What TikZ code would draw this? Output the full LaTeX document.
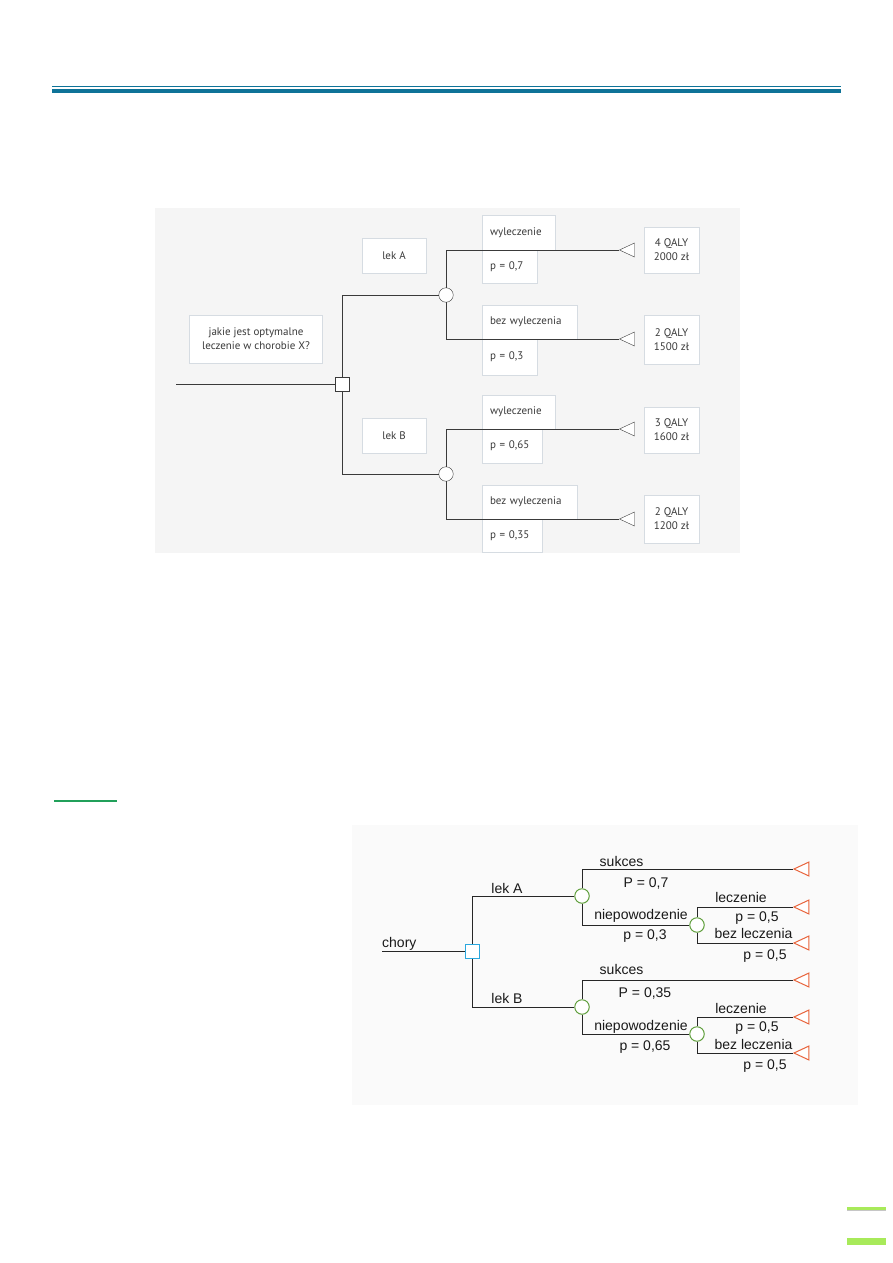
\documentclass[tikz,border=0pt]{standalone}
\usepackage{fontspec}
\setmainfont{Liberation Sans}
\newfontfamily\scanfont{PT Sans}
\usetikzlibrary{shapes.geometric}
\definecolor{headblue}{HTML}{0E7398}
\definecolor{decblue}{HTML}{2BA8DE}
\definecolor{chancegreen}{HTML}{5E9E3A}
\definecolor{leaforange}{HTML}{E8643C}
\definecolor{rulegreen}{HTML}{21A05A}
\definecolor{barlime}{HTML}{A8EA5A}
\definecolor{scanline}{HTML}{3A3A3A}
\definecolor{boxedge}{HTML}{D6DCE2}

\begin{document}
\begin{tikzpicture}[x=1pt, y=-1pt,
        box/.style={draw=boxedge, fill=white, rectangle, align=center, inner sep=0pt, text=scanline, font=\scanfont\fontsize{11}{14}\selectfont},
        branchbox/.style={box, align=left, inner xsep=8pt},
        dec/.style={draw, rectangle, minimum size=14pt, inner sep=0pt, fill=white},
        chance/.style={draw, circle, minimum size=14.5pt, inner sep=0pt, fill=white},
        leaf/.style={draw, isosceles triangle, isosceles triangle stretches, shape border rotate=180, minimum width=14pt, minimum height=15pt, inner sep=0pt, fill=white},
        branch/.style={draw=scanline, line width=0.9pt},
        edge/.style={draw=black!85, line width=1pt},
        lbl/.style={font=\fontsize{14}{16}\selectfont, inner sep=0pt, text=black!90}
    ]
    \useasboundingbox (0,0) rectangle (893,1263);

    \draw[headblue, line width=1.2pt] (52,86.3) -- (841,86.3);
    \fill[headblue] (52,89) rectangle (841,93);

    % scanned tree
    \fill[gray!8] (155,208) rectangle (740,553);

    \node[box, minimum width=133pt, minimum height=48pt] (question) at (256,339) {jakie jest optymalne\\leczenie w chorobie X?};
    \node[box, minimum width=64pt, minimum height=35pt] (lekA) at (394,256) {lek A};
    \node[box, minimum width=64pt, minimum height=35pt] (lekB) at (394,436) {lek B};

    \node[branchbox, text width=57pt, minimum height=35pt] (cureA) at (518.5,232.5) {wyleczenie};
    \node[branchbox, text width=39pt, minimum height=33pt] (pcureA) at (509.5,266.5) {p = 0,7};
    \node[branchbox, text width=79pt, minimum height=34pt] (nocureA) at (529.5,322) {bez wyleczenia};
    \node[branchbox, text width=39pt, minimum height=36pt] (pnocureA) at (509.5,357) {p = 0,3};
    \node[branchbox, text width=57pt, minimum height=34pt] (cureB) at (518.5,412) {wyleczenie};
    \node[branchbox, text width=44pt, minimum height=34pt] (pcureB) at (512,446) {p = 0,65};
    \node[branchbox, text width=79pt, minimum height=34pt] (nocureB) at (529.5,502) {bez wyleczenia};
    \node[branchbox, text width=44pt, minimum height=33pt] (pnocureB) at (512,535.5) {p = 0,35};

    \node[box, minimum width=55pt, minimum height=46pt] (outA1) at (671.5,250) {4 QALY\\2000 zł};
    \node[box, minimum width=55pt, minimum height=49pt] (outA2) at (671.5,339.5) {2 QALY\\1500 zł};
    \node[box, minimum width=55pt, minimum height=46pt] (outB1) at (671.5,430) {3 QALY\\1600 zł};
    \node[box, minimum width=55pt, minimum height=48pt] (outB2) at (671.5,519) {2 QALY\\1200 zł};

    \coordinate (start) at (176,384);
    \node[dec, draw=scanline] (choice) at (342.5,384) {};
    \node[chance, draw=scanline] (chA) at (446,295) {};
    \node[chance, draw=scanline] (chB) at (446,474) {};
    \node[leaf, draw=scanline] (endA1) at (630,250) {};
    \node[leaf, draw=scanline] (endA2) at (630,339) {};
    \node[leaf, draw=scanline] (endB1) at (630,429) {};
    \node[leaf, draw=scanline] (endB2) at (630,519) {};

    \draw[branch] (start) -- (choice);
    \draw[branch] (choice.north) |- (chA);
    \draw[branch] (choice.south) |- (chB);
    \draw[branch] (chA.north) |- (endA1.apex);
    \draw[branch] (chA.south) |- (endA2.apex);
    \draw[branch] (chB.north) |- (endB1.apex);
    \draw[branch] (chB.south) |- (endB2.apex);

    \draw[rulegreen, line width=1.2pt] (54,801) -- (117,801);

    % coloured tree
    \fill[gray!4] (352,825) rectangle (858,1105);

    \coordinate (root) at (382,951);
    \node[dec, draw=decblue, line width=1pt] (pick) at (472,951) {};
    \node[chance, draw=chancegreen, line width=1pt] (drugA) at (582,896) {};
    \node[chance, draw=chancegreen, line width=1pt] (drugB) at (582,1007) {};
    \node[chance, draw=chancegreen, line width=1pt] (failA) at (697,925) {};
    \node[chance, draw=chancegreen, line width=1pt] (failB) at (697,1034) {};
    \node[leaf, draw=leaforange, line width=1pt] (winA) at (804.5,869) {};
    \node[leaf, draw=leaforange, line width=1pt] (treatA) at (804.5,907) {};
    \node[leaf, draw=leaforange, line width=1pt] (untreatA) at (804.5,943) {};
    \node[leaf, draw=leaforange, line width=1pt] (winB) at (804.5,980) {};
    \node[leaf, draw=leaforange, line width=1pt] (treatB) at (804.5,1017) {};
    \node[leaf, draw=leaforange, line width=1pt] (untreatB) at (804.5,1053) {};

    \draw[edge] (root) -- (pick);
    \draw[edge] (pick.north) |- (drugA);
    \draw[edge] (pick.south) |- (drugB);
    \draw[edge] (drugA.north) |- (winA.apex);
    \draw[edge] (drugA.south) |- (failA);
    \draw[edge] (failA.north) |- (treatA.apex);
    \draw[edge] (failA.south) |- (untreatA.apex);
    \draw[edge] (drugB.north) |- (winB.apex);
    \draw[edge] (drugB.south) |- (failB);
    \draw[edge] (failB.north) |- (treatB.apex);
    \draw[edge] (failB.south) |- (untreatB.apex);

    \node[lbl, anchor=base west] (lchory) at (382,947) {chory};
    \node[lbl, anchor=base] (llekA) at (507,893) {lek A};
    \node[lbl, anchor=base] (llekB) at (507,1003) {lek B};
    \node[lbl, anchor=base] (lwinA) at (621.5,866) {sukces};
    \node[lbl, anchor=base] (lpwinA) at (646,887) {P = 0,7};
    \node[lbl, anchor=base] (lfailA) at (641,919) {niepowodzenie};
    \node[lbl, anchor=base] (lpfailA) at (645,939) {p = 0,3};
    \node[lbl, anchor=base] (ltreatA) at (741,902) {leczenie};
    \node[lbl, anchor=base] (lptreatA) at (757,921) {p = 0,5};
    \node[lbl, anchor=base] (luntreatA) at (753.5,938) {bez leczenia};
    \node[lbl, anchor=base] (lpuntreatA) at (765,959) {p = 0,5};
    \node[lbl, anchor=base] (lwinB) at (621.5,974) {sukces};
    \node[lbl, anchor=base] (lpwinB) at (645,997) {P = 0,35};
    \node[lbl, anchor=base] (lfailB) at (641,1030) {niepowodzenie};
    \node[lbl, anchor=base] (lpfailB) at (645,1050) {p = 0,65};
    \node[lbl, anchor=base] (ltreatB) at (741,1013) {leczenie};
    \node[lbl, anchor=base] (lptreatB) at (757,1031) {p = 0,5};
    \node[lbl, anchor=base] (luntreatB) at (753.5,1049) {bez leczenia};
    \node[lbl, anchor=base] (lpuntreatB) at (765,1069) {p = 0,5};

    \fill[barlime] (847,1206.5) rectangle (886,1209.5);
    \fill[gray!45] (847,1209.5) rectangle (886,1210.2);
    \fill[barlime] (847,1238) rectangle (886,1245);
\end{tikzpicture}
\end{document}
